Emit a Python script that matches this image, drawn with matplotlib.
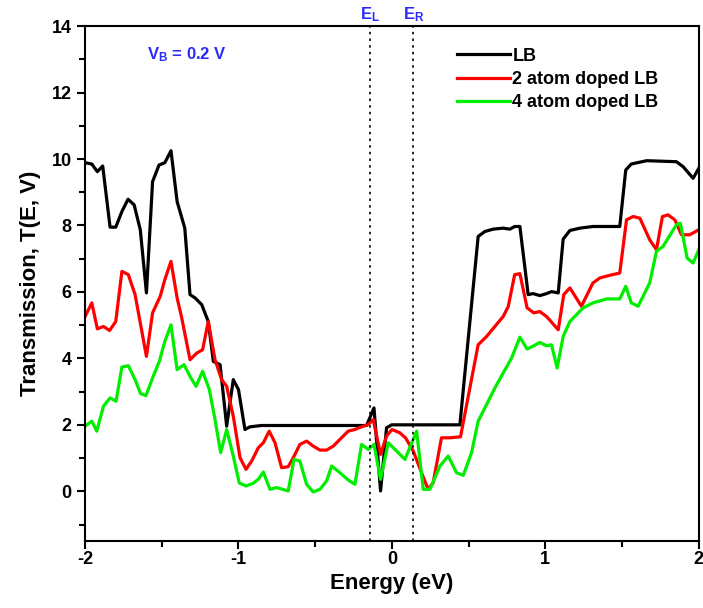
import numpy as np
import matplotlib.pyplot as plt
from matplotlib.ticker import MultipleLocator

plt.rcParams['font.family'] = ['Liberation Sans', 'DejaVu Sans']
plt.rcParams['font.weight'] = 'bold'
plt.rcParams['mathtext.default'] = 'regular'
plt.rcParams['axes.unicode_minus'] = False

# LB
e_lb = [-2.0, -1.956, -1.92, -1.885, -1.837, -1.80, -1.76, -1.72, -1.68, -1.64, -1.60, -1.56,
        -1.518, -1.48, -1.44, -1.40, -1.35, -1.316, -1.283, -1.24, -1.197, -1.164, -1.12,
        -1.077, -1.034, -1.0, -0.958, -0.925, -0.85, -0.5, -0.165, -0.117, -0.074, -0.035,
        -0.002, 0.2, 0.443, 0.562, 0.606, 0.66, 0.725, 0.769, 0.80, 0.834, 0.888, 0.92,
        0.964, 1.008, 1.04, 1.084, 1.116, 1.16, 1.225, 1.31, 1.485, 1.524, 1.56, 1.66,
        1.854, 1.898, 1.963, 2.0]
t_lb = [9.89, 9.85, 9.62, 9.79, 7.95, 7.95, 8.42, 8.79, 8.62, 7.87, 5.97, 9.32,
        9.82, 9.89, 10.25, 8.72, 7.92, 5.92, 5.82, 5.62, 5.11, 3.91, 3.81,
        1.96, 3.36, 3.06, 1.86, 1.94, 1.98, 1.98, 1.98, 2.51, 0.01, 1.91,
        2.0, 2.0, 2.0, 7.67, 7.82, 7.89, 7.92, 7.89, 7.97, 7.97, 5.92, 5.95,
        5.89, 5.95, 6.01, 5.97, 7.59, 7.85, 7.92, 7.97, 7.97, 9.67, 9.85, 9.95,
        9.92, 9.77, 9.42, 9.72]

# 2 atom doped LB
e_2 = [-2.0, -1.956, -1.92, -1.88, -1.84, -1.80, -1.76, -1.718, -1.674, -1.60, -1.56, -1.51,
       -1.48, -1.44, -1.40, -1.37, -1.316, -1.272, -1.234, -1.197, -1.153, -1.11, -1.077,
       -1.034, -0.99, -0.951, -0.914, -0.871, -0.838, -0.80, -0.762, -0.719, -0.676, -0.643,
       -0.60, -0.556, -0.513, -0.469, -0.426, -0.382, -0.339, -0.285, -0.241, -0.198, -0.154,
       -0.122, -0.074, -0.035, 0.0, 0.052, 0.09, 0.139, 0.193, 0.236, 0.269, 0.323, 0.378,
       0.447, 0.562, 0.617, 0.671, 0.725, 0.758, 0.80, 0.834, 0.881, 0.925, 0.964, 1.008,
       1.084, 1.12, 1.16, 1.235, 1.31, 1.355, 1.41, 1.485, 1.529, 1.572, 1.616, 1.68, 1.724,
       1.763, 1.80, 1.844, 1.887, 1.94, 2.0]
t_2 = [5.26, 5.67, 4.89, 4.96, 4.84, 5.11, 6.62, 6.52, 5.92, 4.06, 5.37, 5.87,
       6.37, 6.92, 5.82, 5.22, 3.96, 4.16, 4.26, 5.11, 3.96, 3.36, 3.16,
       2.26, 1.01, 0.66, 0.91, 1.31, 1.46, 1.81, 1.46, 0.71, 0.74, 1.01,
       1.41, 1.51, 1.36, 1.24, 1.24, 1.36, 1.56, 1.81, 1.86, 1.94, 2.01,
       2.16, 1.11, 1.66, 1.86, 1.76, 1.6, 1.21, 0.56, 0.06, 0.26, 1.61, 1.61,
       1.64, 4.41, 4.66, 4.96, 5.26, 5.56, 6.52, 6.55, 5.52, 5.37, 5.41, 5.26,
       4.86, 5.92, 6.12, 5.57, 6.27, 6.42, 6.49, 6.57, 8.17, 8.27, 8.22, 7.57, 7.27,
       8.27, 8.32, 8.17, 7.72, 7.72, 7.87]

# 4 atom doped LB
e_4 = [-2.0, -1.956, -1.924, -1.88, -1.837, -1.798, -1.76, -1.718, -1.674, -1.638, -1.603,
       -1.56, -1.516, -1.48, -1.44, -1.40, -1.355, -1.316, -1.277, -1.234, -1.19, -1.153,
       -1.116, -1.077, -1.034, -0.995, -0.951, -0.904, -0.871, -0.838, -0.795, -0.751,
       -0.676, -0.638, -0.60, -0.556, -0.513, -0.469, -0.426, -0.393, -0.339, -0.285,
       -0.241, -0.198, -0.154, -0.117, -0.074, -0.024, 0.02, 0.085, 0.161, 0.204, 0.248,
       0.313, 0.367, 0.421, 0.465, 0.519, 0.562, 0.617, 0.671, 0.725, 0.78, 0.834, 0.881,
       0.925, 0.964, 1.008, 1.04, 1.077, 1.116, 1.16, 1.246, 1.31, 1.40, 1.485, 1.524,
       1.56, 1.605, 1.68, 1.724, 1.767, 1.854, 1.88, 1.924, 1.963, 2.0]
t_4 = [1.96, 2.11, 1.81, 2.56, 2.81, 2.71, 3.74, 3.78, 3.36, 2.94, 2.88,
       3.41, 3.91, 4.51, 5.01, 3.66, 3.81, 3.46, 3.16, 3.61, 3.06, 2.16,
       1.16, 1.86, 1.06, 0.25, 0.16, 0.24, 0.36, 0.58, 0.06, 0.11,
       0.01, 0.96, 0.91, 0.21, -0.02, 0.06, 0.31, 0.76, 0.56, 0.34,
       0.21, 1.41, 1.26, 1.41, 0.36, 1.46, 1.26, 0.96, 1.81, 0.06, 0.06,
       0.76, 1.06, 0.56, 0.48, 1.16, 2.11, 2.61, 3.11, 3.56, 4.01, 4.64, 4.28,
       4.38, 4.48, 4.38, 4.41, 3.71, 4.66, 5.11, 5.52, 5.67, 5.79, 5.79, 6.17,
       5.67, 5.57, 6.27, 7.22, 7.37, 8.02, 8.07, 7.02, 6.87, 7.27]

e_left, e_right = -0.14, 0.14

fig = plt.figure(figsize=(7.03, 6.08), dpi=100)
ax = fig.add_axes([0.121, 0.110, 0.873, 0.847])

ax.plot(e_lb, t_lb, color='black', lw=2.3, label='LB')
ax.plot(e_2, t_2, color='#ff0000', lw=2.3, label='2 atom doped LB')
ax.plot(e_4, t_4, color='#00ee00', lw=2.3, label='4 atom doped LB')

ax.axvline(e_left, color='black', ls=(0, (1.5, 2.5)), lw=1.2)
ax.axvline(e_right, color='black', ls=(0, (1.5, 2.5)), lw=1.2)

ax.set_xlim(-2, 2)
ax.set_ylim(-1.5, 14)
ax.xaxis.set_major_locator(MultipleLocator(1))
ax.xaxis.set_minor_locator(MultipleLocator(0.5))
ax.yaxis.set_major_locator(MultipleLocator(2))
ax.yaxis.set_minor_locator(MultipleLocator(1))
ax.tick_params(which='major', length=6, width=1.5, labelsize=13, direction='out')
ax.tick_params(which='minor', length=4, width=1.5, direction='out')
ax.tick_params(axis='x', pad=1)
for s in ax.spines.values():
    s.set_linewidth(1.5)

ax.set_xlabel('Energy (eV)', fontsize=16, fontweight='bold', labelpad=4)
ax.set_ylabel('Transmission, T(E, V)', fontsize=16, fontweight='bold', labelpad=8)

ax.text(0.101, 0.945, 'V$_B$ = 0.2 V', transform=ax.transAxes, color='#2a2aff',
        fontsize=12, fontweight='bold', va='center')
ax.text(e_left, 1.004, 'E$_L$', transform=ax.get_xaxis_transform(), color='#2a2aff',
        fontsize=12, fontweight='bold', ha='center', va='bottom')
ax.text(e_right, 1.004, 'E$_R$', transform=ax.get_xaxis_transform(), color='#2a2aff',
        fontsize=12, fontweight='bold', ha='center', va='bottom')

leg = ax.legend(loc='upper left', bbox_to_anchor=(0.58, 0.99), frameon=False,
                fontsize=13, handlelength=2.9, handletextpad=0.15, labelspacing=0.35)
for t in leg.get_texts():
    t.set_fontweight('bold')

fig.savefig('out.png', dpi=100)
